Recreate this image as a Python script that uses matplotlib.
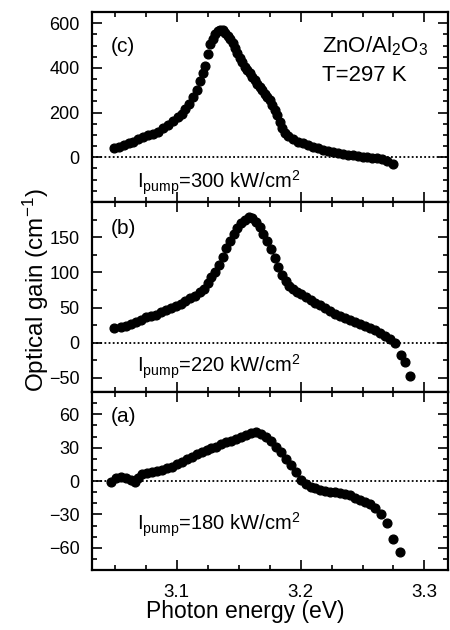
import matplotlib
matplotlib.use("Agg")
import matplotlib.pyplot as plt
from matplotlib.ticker import MultipleLocator

plt.rcParams['font.family'] = ['Liberation Sans', 'DejaVu Sans']
plt.rcParams['mathtext.fontset'] = 'custom'
plt.rcParams['mathtext.rm'] = 'Liberation Sans'
plt.rcParams['mathtext.it'] = 'Liberation Sans:italic'

# pannello (c) - 300 kW/cm2
energia_c = [3.049, 3.053, 3.057, 3.061, 3.065, 3.069, 3.073, 3.077, 3.081, 3.085,
             3.089, 3.093, 3.097, 3.101, 3.104, 3.107, 3.110, 3.113, 3.116, 3.119,
             3.121, 3.123, 3.125, 3.127, 3.129, 3.131, 3.133, 3.135, 3.137, 3.139,
             3.141, 3.143, 3.145, 3.147, 3.149, 3.151, 3.153, 3.155, 3.157, 3.159,
             3.161, 3.163, 3.165, 3.167, 3.169, 3.171, 3.173, 3.175, 3.177, 3.179,
             3.181, 3.183, 3.185, 3.187, 3.190, 3.194, 3.198, 3.202, 3.206, 3.210,
             3.214, 3.218, 3.222, 3.226, 3.230, 3.234, 3.238, 3.242, 3.246, 3.250,
             3.254, 3.258, 3.262, 3.266, 3.270, 3.275]
guadagno_c = [42, 48, 55, 62, 70, 80, 90, 98, 106, 115,
              130, 145, 162, 180, 195, 215, 240, 270, 300, 340,
              375, 410, 460, 505, 530, 550, 563, 570, 568, 558,
              543, 528, 510, 490, 465, 445, 425, 405, 390, 375,
              360, 345, 330, 315, 300, 285, 270, 255, 235, 210,
              190, 160, 130, 110, 95, 80, 70, 62, 55, 47,
              40, 33, 27, 22, 17, 13, 10, 8, 5, 3,
              1, -2, -5, -8, -15, -30]

# pannello (b) - 220 kW/cm2
energia_b = [3.049, 3.055, 3.059, 3.063, 3.067, 3.071, 3.075, 3.079, 3.083, 3.087,
             3.091, 3.095, 3.099, 3.103, 3.107, 3.111, 3.115, 3.119, 3.122, 3.125,
             3.128, 3.131, 3.134, 3.137, 3.140, 3.143, 3.146, 3.149, 3.152, 3.155,
             3.158, 3.161, 3.164, 3.167, 3.170, 3.173, 3.176, 3.179, 3.182, 3.185,
             3.188, 3.191, 3.194, 3.197, 3.200, 3.204, 3.208, 3.212, 3.216, 3.220,
             3.224, 3.228, 3.232, 3.236, 3.240, 3.244, 3.248, 3.252, 3.256, 3.260,
             3.264, 3.268, 3.272, 3.276, 3.281, 3.284, 3.288]
guadagno_b = [21, 22, 24, 27, 30, 33, 36, 38, 40, 43,
              46, 49, 52, 55, 59, 63, 67, 72, 76, 85,
              93, 100, 110, 122, 134, 145, 155, 163, 170, 175,
              178, 177, 172, 164, 155, 145, 133, 120, 107, 96,
              88, 81, 76, 72, 69, 65, 61, 57, 53, 49,
              45, 41, 38, 35, 32, 29, 26, 24, 21, 18,
              14, 10, 5, 0, -17, -28, -47]

# pannello (a) - 180 kW/cm2
energia_a = [3.047, 3.051, 3.055, 3.059, 3.063, 3.066, 3.069, 3.072, 3.076, 3.080,
             3.084, 3.088, 3.092, 3.096, 3.100, 3.104, 3.108, 3.112, 3.116, 3.120,
             3.124, 3.128, 3.132, 3.136, 3.140, 3.144, 3.148, 3.152, 3.156, 3.160,
             3.164, 3.168, 3.172, 3.176, 3.180, 3.184, 3.188, 3.192, 3.196, 3.200,
             3.204, 3.208, 3.212, 3.216, 3.220, 3.224, 3.228, 3.232, 3.236, 3.240,
             3.244, 3.248, 3.252, 3.256, 3.260, 3.265, 3.270, 3.275, 3.280]
guadagno_a = [-1, 3, 4, 3, 1, -1, 3, 6, 7, 8,
              9, 10, 12, 13, 15, 17, 20, 22, 24, 26,
              28, 30, 31, 33, 35, 36, 38, 40, 41, 43,
              44, 42, 40, 36, 31, 26, 20, 14, 8, 1,
              -3, -5, -6, -8, -9, -10, -10, -11, -12, -13,
              -15, -17, -19, -21, -24, -30, -38, -52, -64]

etichette = ['(c)', '(b)', '(a)']
potenze = ['300', '220', '180']
yticks_c = [0, 200, 400, 600]
yticks_b = [-50, 0, 50, 100, 150]
yticks_a = [-60, -30, 0, 30, 60]

fig = plt.figure(figsize=(4.5, 6.3), dpi=100)

pannelli = [
    # dati, limiti y, tick, minor, y etichetta, y testo pompa, rettangolo assi
    (energia_c, guadagno_c, (-200, 650), yticks_c, 50, 497, -115, [0.2044, 0.6794, 0.7911, 0.3016]),
    (energia_b, guadagno_b, (-70, 200), yticks_b, 25, 163, -34, [0.2044, 0.3778, 0.7911, 0.3016]),
    (energia_a, guadagno_a, (-80, 80), yticks_a, 10, 58, -39, [0.2044, 0.0952, 0.7911, 0.2825]),
]

for i, (x, y, ylim, yt, minore, y_lab, y_pump, rett) in enumerate(pannelli):
    ax = fig.add_axes(rett)
    ax.plot(x, y, 'o', color='black', ms=6.3, mec='black')
    ax.axhline(0, color='black', ls=(0, (1, 1.3)), lw=1.3, zorder=0)
    ax.set_xlim(3.0315, 3.319)
    ax.set_ylim(*ylim)
    ax.set_yticks(yt)
    ax.yaxis.set_minor_locator(MultipleLocator(minore))
    ax.xaxis.set_major_locator(MultipleLocator(0.1))
    ax.xaxis.set_minor_locator(MultipleLocator(0.025))
    ax.tick_params(which='both', direction='in', top=True, right=True, width=1.2)
    ax.tick_params(which='major', length=7)
    ax.tick_params(which='minor', length=3.5)
    ax.tick_params(axis='y', labelsize=13, pad=9)
    ax.tick_params(axis='x', labelsize=13.5, pad=10)
    for s in ax.spines.values():
        s.set_linewidth(1.6)
    if i < 2:
        ax.set_xticklabels([])
    else:
        ax.set_xticks([3.1, 3.2, 3.3])
        ax.set_xticklabels(['3.1', '3.2', '3.3'])
    ax.text(3.047, y_lab, etichette[i], fontsize=15, va='center')
    ax.text(3.068, y_pump, r'I$_{\mathrm{pump}}$=' + potenze[i] + r' kW/cm$^{2}$',
            fontsize=14.5, va='center')
    if i == 0:
        ax.text(3.217, 497, r'ZnO/Al$_{2}$O$_{3}$', fontsize=16, va='center')
        ax.text(3.217, 364, 'T=297 K', fontsize=16, va='center')

fig.text(0.545, 0.03, 'Photon energy (eV)', fontsize=16.5, ha='center', va='center')
fig.text(0.08, 0.54, r'Optical gain (cm$^{-1}$)', fontsize=17.5, rotation=90,
         ha='center', va='center')

fig.savefig('out.png', dpi=100)
